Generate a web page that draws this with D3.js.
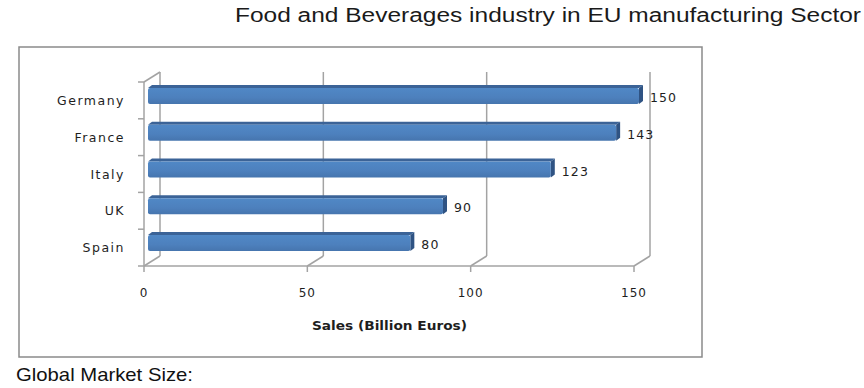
<!DOCTYPE html>
<html>
<head>
<meta charset="utf-8">
<script src="https://cdn.jsdelivr.net/npm/d3@7"></script>
<style>
  html, body { margin: 0; padding: 0; background: #fff; }
  svg { display: block; }
</style>
</head>
<body>
<div id="chart"></div>
<script>
// data
const countries = ["Germany", "France", "Italy", "UK", "Spain"];
const sales = [150, 143, 123, 90, 80];
const xTicks = [0, 50, 100, 150];

const W = 864, H = 388;
const depth = { dx: 16, dy: -10 };   // wall depth
const bar = { dx: 4, dy: -3, h: 16 }; // bar box depth
const gridColor = "#a3a3a3";

const svg = d3.select("#chart").append("svg")
  .attr("width", W)
  .attr("height", H);

const defs = svg.append("defs");
const grad = defs.append("linearGradient")
  .attr("id", "barFront")
  .attr("x1", 0).attr("y1", 0).attr("x2", 0).attr("y2", 1);
grad.append("stop").attr("offset", "0%").attr("stop-color", "#5088c6");
grad.append("stop").attr("offset", "60%").attr("stop-color", "#4d80bd");
grad.append("stop").attr("offset", "100%").attr("stop-color", "#4675ae");

// title
svg.append("text")
  .attr("x", 235)
  .attr("y", 22)
  .attr("textLength", 626)
  .attr("lengthAdjust", "spacingAndGlyphs")
  .style("font-family", "'Liberation Sans', Arial, sans-serif")
  .style("font-size", "20px")
  .style("fill", "#1a1a1a")
  .text("Food and Beverages industry in EU manufacturing Sector");

// chart frame
svg.append("rect")
  .attr("x", 19)
  .attr("y", 47)
  .attr("width", 683)
  .attr("height", 310)
  .style("fill", "none")
  .style("stroke", "#8a8a8a")
  .style("stroke-width", 1.5);

const x = d3.scaleLinear().domain([0, 150]).range([144, 634]);
const y = d3.scaleBand().domain(countries).range([82, 266]).paddingInner(0).paddingOuter(0);
const floorY = y.range()[1];
const topY = y.range()[0];

const grid = svg.append("g")
  .style("stroke", gridColor)
  .style("stroke-width", 1.5)
  .style("fill", "none");

// back wall gridlines
grid.selectAll("line.back")
  .data(xTicks)
  .join("line")
  .attr("class", "back")
  .attr("x1", d => x(d) + depth.dx)
  .attr("x2", d => x(d) + depth.dx)
  .attr("y1", topY + depth.dy)
  .attr("y2", floorY + depth.dy);

// floor diagonals
grid.selectAll("line.diag")
  .data(xTicks)
  .join("line")
  .attr("class", "diag")
  .attr("x1", d => x(d))
  .attr("x2", d => x(d) + depth.dx)
  .attr("y1", floorY)
  .attr("y2", floorY + depth.dy);

// front floor line and x ticks
grid.append("line")
  .attr("x1", x(0)).attr("x2", x(150))
  .attr("y1", floorY).attr("y2", floorY);
grid.selectAll("line.xtick")
  .data(xTicks)
  .join("line")
  .attr("class", "xtick")
  .attr("x1", d => x(d)).attr("x2", d => x(d))
  .attr("y1", floorY).attr("y2", floorY + 6);

// left wall
grid.append("line")
  .attr("x1", x(0)).attr("x2", x(0))
  .attr("y1", topY).attr("y2", floorY);
grid.append("line")
  .attr("x1", x(0)).attr("x2", x(0) + depth.dx)
  .attr("y1", topY).attr("y2", topY + depth.dy);
const yEdges = countries.map(c => y(c)).concat([floorY]);
grid.selectAll("line.ytick")
  .data(yEdges)
  .join("line")
  .attr("class", "ytick")
  .attr("x1", x(0) - 6).attr("x2", x(0))
  .attr("y1", d => d).attr("y2", d => d);

// bars
const rows = countries.map((c, i) => ({ name: c, value: sales[i] }));
const bars = svg.append("g").selectAll("g")
  .data(rows)
  .join("g");

function barY(d) { return y(d.name) + y.bandwidth() / 2 - 12.5; }
function barX0() { return x(0) + 4; }
function barX1(d) { return x(d.value) + 5; }

bars.append("path")
  .attr("d", d => {
    const x0 = barX0(), x1 = barX1(d), y0 = barY(d);
    return `M${x0},${y0} L${x0 + bar.dx},${y0 + bar.dy} L${x1 + bar.dx},${y0 + bar.dy} L${x1},${y0} Z`;
  })
  .style("fill", "#3b6397");

bars.append("path")
  .attr("d", d => {
    const x1 = barX1(d), y0 = barY(d);
    return `M${x1},${y0} L${x1 + bar.dx},${y0 + bar.dy} L${x1 + bar.dx},${y0 + bar.dy + bar.h} L${x1},${y0 + bar.h} Z`;
  })
  .style("fill", "#2f5383");

bars.append("rect")
  .attr("x", barX0)
  .attr("y", barY)
  .attr("width", d => barX1(d) - barX0())
  .attr("height", bar.h)
  .attr("rx", 2)
  .style("fill", "url(#barFront)");

// value labels
bars.append("text")
  .attr("x", d => x(d.value) + 16)
  .attr("y", d => y(d.name) + y.bandwidth() / 2 + 1.5)
  .style("font-family", "'DejaVu Sans', Verdana, sans-serif")
  .style("font-size", "12.5px")
  .style("letter-spacing", "1.1px")
  .style("fill", "#1e1e1e")
  .text(d => d.value);

// category labels
svg.append("g").selectAll("text")
  .data(countries)
  .join("text")
  .attr("x", 125)
  .attr("y", d => y(d) + y.bandwidth() / 2 + 4.5)
  .attr("text-anchor", "end")
  .style("font-family", "'DejaVu Sans', Verdana, sans-serif")
  .style("font-size", "12.5px")
  .style("letter-spacing", "1.5px")
  .style("fill", "#1e1e1e")
  .text(d => d);

// x tick labels
svg.append("g").selectAll("text")
  .data(xTicks)
  .join("text")
  .attr("x", d => x(d))
  .attr("y", 297)
  .attr("text-anchor", "middle")
  .style("font-family", "'DejaVu Sans', Tahoma, sans-serif")
  .style("font-size", "12px")
  .style("letter-spacing", "1px")
  .style("fill", "#1e1e1e")
  .text(d => d);

// axis title
svg.append("text")
  .attr("x", 312)
  .attr("y", 330)
  .attr("textLength", 155)
  .attr("lengthAdjust", "spacingAndGlyphs")
  .style("font-family", "'DejaVu Sans', Tahoma, sans-serif")
  .style("font-weight", "bold")
  .style("font-size", "12px")
  .style("fill", "#1e1e1e")
  .text("Sales (Billion  Euros)");

// text under the frame
svg.append("text")
  .attr("x", 16)
  .attr("y", 381)
  .attr("textLength", 177)
  .attr("lengthAdjust", "spacingAndGlyphs")
  .style("font-family", "'Liberation Sans', Arial, sans-serif")
  .style("font-size", "19px")
  .style("fill", "#111")
  .text("Global Market Size:");
</script>
</body>
</html>
